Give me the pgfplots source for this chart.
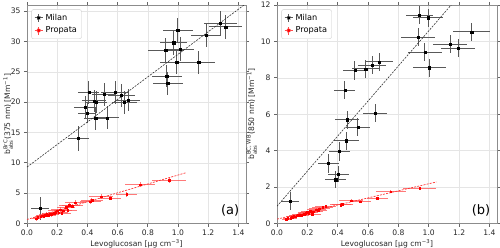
\documentclass[border=0pt]{standalone}
\usepackage{fontspec}
\setmainfont{DejaVu Sans}
\usepackage{amsmath}
\usepackage{pgfplots}
\usepackage{pgfplotstable}
\pgfplotsset{compat=1.18}

\pgfplotstableread{
x ex y ey
0.086 0.06 2.5 1.9
0.340 0.07 14.0 2.0
0.384 0.07 19.2 1.8
0.400 0.06 18.2 1.7
0.410 0.07 21.6 1.9
0.444 0.08 20.2 1.8
0.457 0.07 20.0 1.8
0.455 0.08 17.3 1.9
0.512 0.08 21.3 1.9
0.532 0.08 17.4 1.9
0.583 0.09 21.6 1.9
0.623 0.09 21.1 1.9
0.645 0.08 20.0 1.9
0.671 0.08 20.3 1.8
0.918 0.12 28.5 2.0
0.925 0.10 24.3 1.8
0.932 0.10 23.1 1.9
0.971 0.09 29.8 2.0
0.991 0.11 26.6 2.0
0.998 0.10 31.8 2.0
1.015 0.09 28.7 2.0
1.137 0.11 26.6 1.9
1.185 0.10 31.0 2.0
1.280 0.11 33.0 2.0
1.315 0.11 32.4 2.0
}\milanA

\pgfplotstableread{
x ex y ey
0.086 0.06 1.22 0.50
0.340 0.07 3.29 0.50
0.387 0.07 2.41 0.45
0.403 0.07 2.72 0.45
0.411 0.07 3.96 0.50
0.447 0.07 7.32 0.50
0.458 0.08 4.55 0.50
0.462 0.08 5.70 0.50
0.513 0.08 8.40 0.50
0.533 0.08 5.30 0.50
0.584 0.09 8.49 0.50
0.626 0.09 8.69 0.50
0.648 0.08 6.07 0.50
0.672 0.09 8.88 0.50
0.929 0.11 10.23 0.50
0.938 0.09 11.45 0.52
0.975 0.11 9.42 0.50
0.997 0.10 11.30 0.50
1.004 0.11 8.56 0.50
1.141 0.11 9.86 0.50
1.194 0.11 9.62 0.50
1.283 0.12 10.52 0.50
}\milanB

\pgfplotstableread{
x ex ya eya yb eyb
0.06 0.03 0.80 0.35 0.22 0.08
0.07 0.03 1.00 0.35 0.28 0.08
0.09 0.04 1.10 0.35 0.30 0.08
0.10 0.04 1.30 0.35 0.36 0.08
0.11 0.04 1.20 0.35 0.40 0.08
0.12 0.04 1.35 0.35 0.38 0.08
0.13 0.05 1.50 0.35 0.42 0.08
0.14 0.05 1.40 0.35 0.45 0.08
0.15 0.05 1.60 0.35 0.48 0.08
0.16 0.05 1.50 0.35 0.44 0.08
0.18 0.05 1.70 0.35 0.52 0.08
0.19 0.05 1.90 0.35 0.55 0.08
0.20 0.06 2.10 0.35 0.62 0.08
0.21 0.06 1.80 0.35 0.58 0.08
0.22 0.06 2.30 0.35 0.68 0.08
0.23 0.06 1.70 0.35 0.50 0.08
0.24 0.06 2.10 0.35 0.65 0.08
0.26 0.06 2.70 0.35 0.75 0.08
0.27 0.06 2.20 0.35 0.70 0.08
0.28 0.07 3.00 0.35 0.82 0.08
0.30 0.07 2.90 0.35 0.88 0.08
0.32 0.07 3.40 0.40 0.95 0.08
0.42 0.07 3.60 0.40 1.02 0.08
0.43 0.07 3.80 0.40 1.05 0.08
0.49 0.08 4.40 0.40 1.25 0.08
0.55 0.07 4.20 0.40 1.20 0.08
0.66 0.07 4.80 0.40 1.40 0.08
0.75 0.10 6.40 0.40 1.75 0.08
0.94 0.11 7.10 0.40 1.95 0.08
}\propata

\pgfplotsset{
  panel/.style={
    scale only axis, anchor=south west,
    xmin=0, xmax=1.45, ymin=0,
    xtick={0,0.2,0.4,0.6,0.8,1.0,1.2,1.4},
    xticklabel style={/pgf/number format/.cd, fixed, fixed zerofill, precision=1},
    /pgf/number format/assume math mode=true,
    grid=major, grid style={black!10, line width=0.5pt},
    axis line style={black!45, line width=0.8pt},
    tick align=outside, major tick length=3pt,
    tick style={black!60, line width=0.7pt},
    ticklabel style={font=\fontsize{7.6}{9}\selectfont, text=black!85},
    label style={font=\fontsize{7.6}{9}\selectfont, text=black!85},
    xlabel={Levoglucosan [μg cm\textsuperscript{−3}]},
    xlabel style={yshift=3pt},
    legend style={at={(0.02,0.98)}, anchor=north west, draw=black!20, rounded corners=2pt,
      font=\fontsize{8.2}{10}\selectfont, row sep=1pt, inner sep=2.5pt},
    legend cell align=left,
  },
  milan/.style={only marks, mark=square*, mark size=1.1pt, black,
    error bars/.cd, x dir=both, x explicit, y dir=both, y explicit,
    error bar style={black!65, line width=0.9pt}, error mark=none, /pgfplots/.cd},
  prop/.style={only marks, mark=square*, mark size=0.8pt, red,
    error bars/.cd, x dir=both, x explicit, y dir=both, y explicit,
    error bar style={red!70, line width=0.9pt, opacity=0.75}, error mark=none, /pgfplots/.cd},
  milanleg/.style={legend image code/.code={
    \draw[black!65, line width=0.9pt] (0.1cm,0cm) -- (0.4cm,0cm) (0.25cm,-0.14cm) -- (0.25cm,0.14cm);
    \fill[black] (0.25cm,0cm) +(-1.1pt,-1.1pt) rectangle +(1.1pt,1.1pt);}},
  propleg/.style={legend image code/.code={
    \draw[red!70, line width=0.9pt] (0.1cm,0cm) -- (0.4cm,0cm) (0.25cm,-0.14cm) -- (0.25cm,0.14cm);
    \fill[red] (0.25cm,0cm) +(-0.9pt,-0.9pt) rectangle +(0.9pt,0.9pt);}},
}

\begin{document}
\begin{tikzpicture}
\useasboundingbox (0,0) rectangle (500pt,247pt);
\begin{axis}[panel, at={(27pt,23.5pt)}, width=219pt, height=218.5pt,
  ymax=36, ytick={0,5,10,15,20,25,30,35},
  ylabel style={yshift=-9pt},
  ylabel={b$^{\text{BrC}}_{\text{abs}}$(375 nm) [Mm\textsuperscript{−1}]}]
\addplot[milanleg, milan] table[x=x, y=y, x error=ex, y error=ey] {\milanA};
\addlegendentry{Milan}
\addplot[propleg, prop] table[x=x, y=ya, x error=ex, y error=eya] {\propata};
\addlegendentry{Propata}
\addplot[black!80, line width=0.6pt, dash pattern=on 2pt off 1.2pt, forget plot] coordinates {(0,9.3) (1.45,36.24)};
\addplot[red!80, line width=0.7pt, dash pattern=on 2pt off 1.2pt, forget plot] coordinates {(0,0.66) (1.05,8.35)};
\node[anchor=south east, font=\fontsize{13}{15}\selectfont] at (rel axis cs:0.985,0.015) {(a)};
\end{axis}
\begin{axis}[panel, at={(277pt,23.5pt)}, width=220pt, height=218.5pt,
  ymax=12, ytick={0,2,4,6,8,10,12},
  ylabel style={yshift=-3pt},
  ylabel={b$^{\text{BC, WB}}_{\text{abs}}$(850 nm) [Mm\textsuperscript{−1}]}]
\addplot[milanleg, milan] table[x=x, y=y, x error=ex, y error=ey] {\milanB};
\addlegendentry{Milan}
\addplot[propleg, prop] table[x=x, y=yb, x error=ex, y error=eyb] {\propata};
\addlegendentry{Propata}
\addplot[black!80, line width=0.6pt, dash pattern=on 2pt off 1.2pt, forget plot] coordinates {(0,0.95) (1.45,14.91)};
\addplot[red!80, line width=0.7pt, dash pattern=on 2pt off 1.2pt, forget plot] coordinates {(0,0.24) (1.05,2.28)};
\node[anchor=south east, font=\fontsize{13}{15}\selectfont] at (rel axis cs:0.985,0.015) {(b)};
\end{axis}
\end{tikzpicture}
\end{document}
